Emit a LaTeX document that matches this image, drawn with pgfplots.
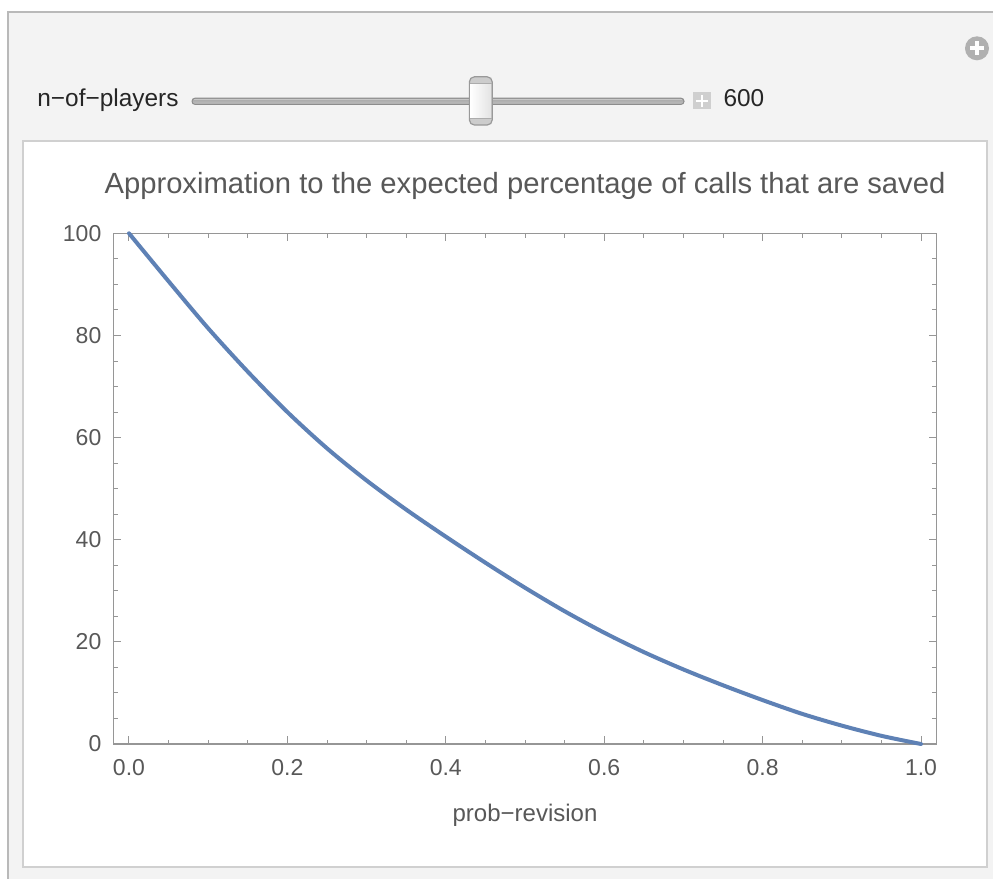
\documentclass[border=0pt]{standalone}
\usepackage{fontspec}
\setmainfont{Liberation Sans}
\usepackage{pgfplots}
\usepackage{pgfplotstable}
\pgfplotsset{compat=1.18}
\definecolor{curveblue}{RGB}{94,129,181}
\definecolor{txt}{RGB}{88,88,88}
\definecolor{framegray}{RGB}{150,150,150}
\definecolor{bggray}{RGB}{243,243,243}
\definecolor{outerborder}{RGB}{185,185,185}
\definecolor{panelborder}{RGB}{208,208,208}

\pgfplotstableread{
p v
0.00 100
0.05 90.6
0.10 81.4
0.15 72.9
0.20 65.0
0.25 57.9
0.30 51.6
0.35 45.9
0.40 40.6
0.45 35.5
0.50 30.6
0.55 26.0
0.60 21.8
0.65 18.0
0.70 14.6
0.75 11.5
0.80 8.6
0.85 5.9
0.90 3.6
0.95 1.6
1.00 0
}\datatable

\begin{document}
\begin{tikzpicture}
\useasboundingbox (0pt,0pt) rectangle (496.5pt,-439.5pt);
\fill[white] (0pt,0pt) rectangle (496.5pt,-439.5pt);
\fill[bggray] (4pt,-6pt) rectangle (496.5pt,-439.5pt);
\draw[outerborder, line width=1pt] (4pt,-439.5pt) -- (4pt,-6pt) -- (496.5pt,-6pt);
\filldraw[fill=white, draw=panelborder, line width=1pt] (11.5pt,-70.5pt) rectangle (493.5pt,-433.3pt);
% corner icon
\fill[gray!62] (488.5pt,-24.15pt) circle (6pt);
\draw[white, line width=2pt] (485pt,-24.15pt) -- (492pt,-24.15pt) (488.5pt,-20.65pt) -- (488.5pt,-27.65pt);
% slider
\node[anchor=base west, inner sep=0pt, font=\fontsize{12.2}{14}\selectfont, text=black!85] at (18.5pt,-53.3pt) {n−of−players};
\shade[top color=gray!70, bottom color=gray!50, draw=gray!90, rounded corners=1.5pt, line width=0.5pt] (96pt,-49.1pt) rectangle (342pt,-52.2pt);
\draw[white, opacity=0.35, line width=0.4pt] (97pt,-49.9pt) -- (341pt,-49.9pt);
\filldraw[fill=gray!40, draw=gray!80, rounded corners=2.5pt, line width=0.6pt] (234.7pt,-38.4pt) rectangle (246.1pt,-62.5pt);
\shade[left color=white, right color=gray!22] (235.2pt,-41.6pt) rectangle (245.6pt,-59.3pt);
\draw[gray!65, line width=0.4pt] (235pt,-41.6pt) -- (245.8pt,-41.6pt) (235pt,-59.3pt) -- (245.8pt,-59.3pt);
\fill[gray!38] (346.7pt,-46.2pt) rectangle (355.3pt,-54.7pt);
\draw[white, line width=1.1pt] (348.2pt,-50.45pt) -- (353.8pt,-50.45pt) (351pt,-47.65pt) -- (351pt,-53.25pt);
\node[anchor=base west, inner sep=0pt, font=\fontsize{12.2}{14}\selectfont, text=black!85] at (361.6pt,-53.35pt) {600};
\begin{axis}[
  at={(56.65pt,-372pt)}, anchor=south west,
  scale only axis, width=411.7pt, height=255.35pt,
  xmin=-0.0198, xmax=1.0198, ymin=0, ymax=100,
  xtick={0,0.2,0.4,0.6,0.8,1},
  minor xtick={0.05,0.1,0.15,0.25,0.3,0.35,0.45,0.5,0.55,0.65,0.7,0.75,0.85,0.9,0.95},
  ytick={0,20,40,60,80,100},
  minor ytick={5,10,15,25,30,35,45,50,55,65,70,75,85,90,95},
  tick pos=both, ticklabel pos=left,
  tick align=inside,
  major tick length=4pt, minor tick length=2.2pt,
  axis line style={framegray, line width=0.6pt},
  every tick/.style={framegray, line width=0.5pt},
  every minor tick/.style={framegray, line width=0.45pt},
  /pgf/number format/assume math mode=true,
  xticklabel style={/pgf/number format/.cd, fixed, fixed zerofill, precision=1, /tikz/.cd,
     font=\fontsize{11.5}{13}\selectfont, text=txt, anchor=base, inner sep=0pt, yshift=-15.5pt},
  yticklabel style={font=\fontsize{11.5}{13}\selectfont, text=txt, anchor=east, inner sep=0pt, xshift=-5.8pt},
  title={Approximation to the expected percentage of calls that are saved},
  title style={at={(0.5,1)}, anchor=base, inner sep=0pt, yshift=14.15pt, font=\fontsize{14.6}{16}\selectfont, text=txt},
  xlabel={prob−revision},
  xlabel style={at={(0.5,0)}, anchor=base, inner sep=0pt, yshift=-38.5pt, font=\fontsize{12}{14}\selectfont, text=txt},
  clip=false,
]
\addplot[curveblue, line width=2pt, smooth, line cap=round] table[x=p, y=v] {\datatable};
\end{axis}
\end{tikzpicture}
\end{document}
